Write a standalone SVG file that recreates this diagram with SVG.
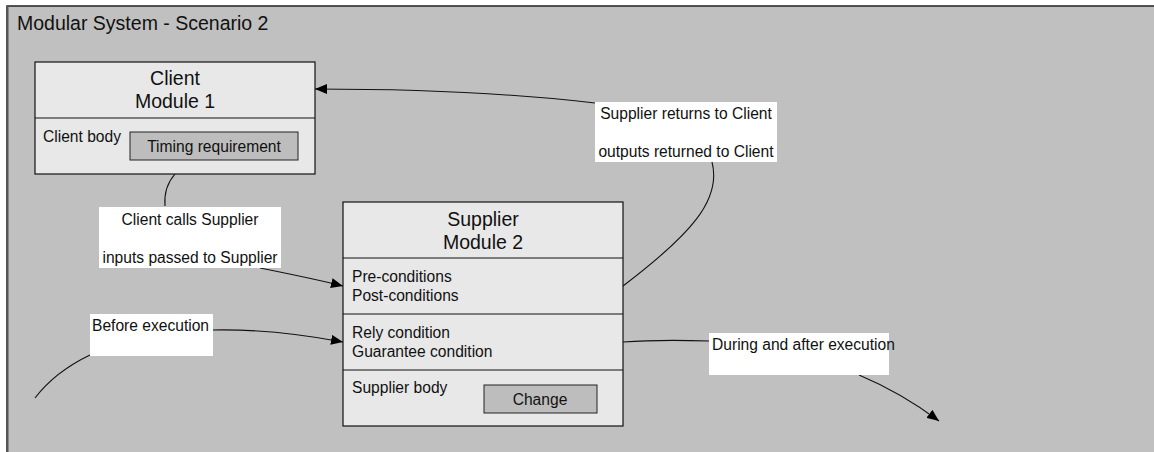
<svg xmlns="http://www.w3.org/2000/svg" width="1154" height="452" viewBox="0 0 1154 452">
<style>
text{font-family:"Liberation Sans",Arial,sans-serif;fill:#111}
.t16{font-size:19.5px}
.t13{font-size:15.6px}
.mod{fill:#e8e8e8;stroke:#111;stroke-width:1.2}
.inner{fill:#bdbdbd;stroke:#222;stroke-width:1}
.lbl{fill:#fff;stroke:none}
.con{fill:none;stroke:#111;stroke-width:1.1}
</style>
<defs>
<marker id="ah" markerWidth="12" markerHeight="10" refX="12" refY="5" orient="auto" markerUnits="userSpaceOnUse">
<path d="M0,0 L12,5 L0,10 Z" fill="#000"/>
</marker>
</defs>
<rect x="0" y="0" width="1154" height="452" fill="#ffffff"/>
<g id="frame">
<rect x="7" y="6" width="1160" height="460" fill="#c0c0c0" stroke="#222" stroke-width="1.5"/>
<line x1="7.5" y1="6" x2="7.5" y2="452" stroke="#555" stroke-width="2"/>
<text x="17" y="30" style="font-size:19.5px">Modular System - Scenario 2</text>
</g>
<g id="connectors">
<path class="con" d="M175,174 C168,182 164,194 165,206"/>
<path class="con" d="M260,268 C290,274 315,279 343,286" marker-end="url(#ah)"/>
<path class="con" d="M595,103 C500,92 400,89 315,89" marker-end="url(#ah)"/>
<path class="con" d="M712,162 C722,200 690,235 623,286"/>
<path class="con" d="M213,330 C260,329 300,334 343,342" marker-end="url(#ah)"/>
<path class="con" d="M90,355 C65,367 48,381 35,398"/>
<path class="con" d="M623,342 C650,340 680,340 709,341"/>
<path class="con" d="M859,375 C890,388 915,403 939,421" marker-end="url(#ah)"/>
</g>
<g id="client">
<rect class="mod" x="35" y="62" width="280" height="112"/>
<line x1="35" y1="118" x2="315" y2="118" stroke="#111" stroke-width="1.2"/>
<text class="t16" x="175" y="85" text-anchor="middle">Client</text>
<text class="t16" x="175" y="108" text-anchor="middle">Module 1</text>
<text class="t13" x="43" y="142">Client body</text>
<rect class="inner" x="130" y="132" width="168" height="28"/>
<text class="t13" x="214" y="152" text-anchor="middle">Timing requirement</text>
</g>
<g id="supplier">
<rect class="mod" x="343" y="202" width="280" height="224"/>
<line x1="343" y1="258" x2="623" y2="258" stroke="#111" stroke-width="1.2"/>
<line x1="343" y1="314" x2="623" y2="314" stroke="#111" stroke-width="1.2"/>
<line x1="343" y1="370" x2="623" y2="370" stroke="#111" stroke-width="1.2"/>
<text class="t16" x="483" y="226" text-anchor="middle">Supplier</text>
<text class="t16" x="483" y="249" text-anchor="middle">Module 2</text>
<text class="t13" x="352" y="282">Pre-conditions</text>
<text class="t13" x="352" y="301">Post-conditions</text>
<text class="t13" x="352" y="338">Rely condition</text>
<text class="t13" x="352" y="357">Guarantee condition</text>
<text class="t13" x="352" y="393">Supplier body</text>
<rect class="inner" x="484" y="385" width="113" height="28"/>
<text class="t13" x="540" y="405" text-anchor="middle">Change</text>
</g>
<g id="label-calls">
<rect class="lbl" x="99" y="207" width="182" height="61"/>
<text class="t13" x="190" y="225" text-anchor="middle">Client calls Supplier</text>
<text class="t13" x="190" y="263" text-anchor="middle">inputs passed to Supplier</text>
</g>
<g id="label-returns">
<rect class="lbl" x="595" y="102" width="182" height="60"/>
<text class="t13" x="686" y="119" text-anchor="middle">Supplier returns to Client</text>
<text class="t13" x="686" y="157" text-anchor="middle">outputs returned to Client</text>
</g>
<g id="label-before">
<rect class="lbl" x="90" y="314" width="123" height="42"/>
<text class="t13" x="92" y="331">Before execution</text>
</g>
<g id="label-during">
<rect class="lbl" x="709" y="333" width="180" height="42"/>
<text class="t13" x="712" y="350">During and after execution</text>
</g>
</svg>
